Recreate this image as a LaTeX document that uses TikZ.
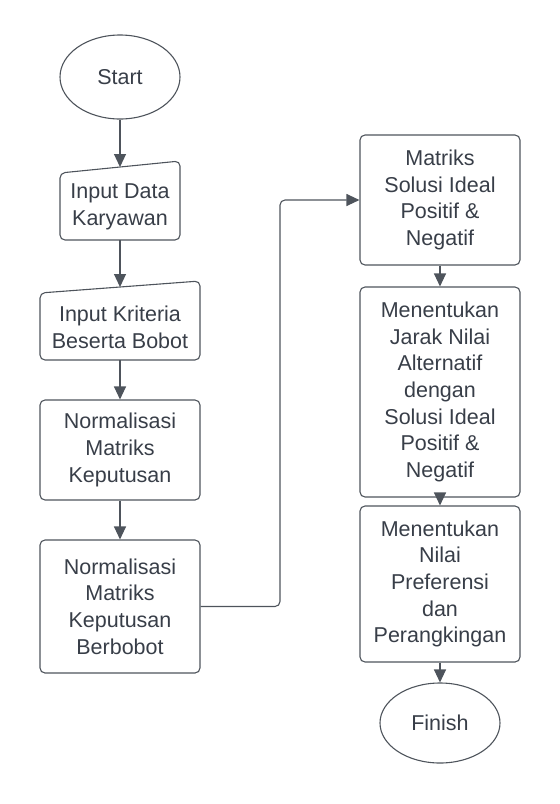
\documentclass[tikz,border=0pt]{standalone}
\usepackage{fontspec}
\setmainfont{Liberation Sans}
\usetikzlibrary{shapes.geometric,arrows.meta,calc}
\definecolor{linec}{RGB}{78,84,92}
\definecolor{textc}{RGB}{56,62,72}
\tikzset{
  lbl/.style={text=textc,align=center,font=\fontsize{21.5}{26.7}\selectfont,inner sep=0pt},
  procbox/.style={draw=linec,line width=1.1pt,rounded corners=5pt,minimum width=160pt,lbl},
  term/.style={ellipse,draw=linec,line width=1.1pt,minimum width=120pt,lbl},
  inshape/.style={draw=linec,line width=1.1pt,rounded corners=5pt},
  arr/.style={draw=linec,line width=1.1pt,-{Triangle[length=13pt,width=12pt]}}
}
\begin{document}
\begin{tikzpicture}[x=1pt,y=-1pt]
\useasboundingbox (0,0) rectangle (560,804);
% left column
\node[term,minimum height=84pt] (start) at (120,77) {Start};

\draw[inshape] (60,240) -- (60,173) -- (180,161) -- (180,240) -- cycle;
\node[lbl] (in1) at (120,207) {Input Data\\Karyawan};
\coordinate (in1top) at (120,167);
\coordinate (in1bot) at (120,240);

\draw[inshape] (40,360) -- (40,293) -- (200,281) -- (200,360) -- cycle;
\node[lbl] (in2) at (120,327) {Input Kriteria\\Beserta Bobot};
\coordinate (in2top) at (120,287);
\coordinate (in2bot) at (120,360);

\node[procbox,minimum height=100pt] (n1) at (120,450) {Normalisasi\\Matriks\\Keputusan};
\node[procbox,minimum height=133pt] (n2) at (120,606.5) {Normalisasi\\Matriks\\Keputusan\\Berbobot};

% right column
\node[procbox,minimum height=130pt] (r1) at (440,200) {Matriks\\Solusi Ideal\\Positif \&\\Negatif};
\node[procbox,minimum height=210pt] (r2) at (440,392) {Menentukan\\Jarak Nilai\\Alternatif\\dengan\\Solusi Ideal\\Positif \&\\Negatif};
\node[procbox,minimum height=156pt] (r3) at (440,584) {Menentukan\\Nilai\\Preferensi\\dan\\Perangkingan};
\node[term,minimum height=80pt] (finish) at (440,723) {Finish};

\coordinate (turn) at (280,0);

% connectors
\draw[arr] (start.south) -- (in1top);
\draw[arr] (in1bot) -- (in2top);
\draw[arr] (in2bot) -- (n1.north);
\draw[arr] (n1.south) -- (n2.north);
\draw[arr,rounded corners=5pt] (n2.east) -- (n2.east -| turn) |- (r1.west);
\draw[arr] (r1.south) -- (r2.north);
\draw[arr] (r2.south) -- (r3.north);
\draw[arr] (r3.south) -- (finish.north);
\end{tikzpicture}
\end{document}
